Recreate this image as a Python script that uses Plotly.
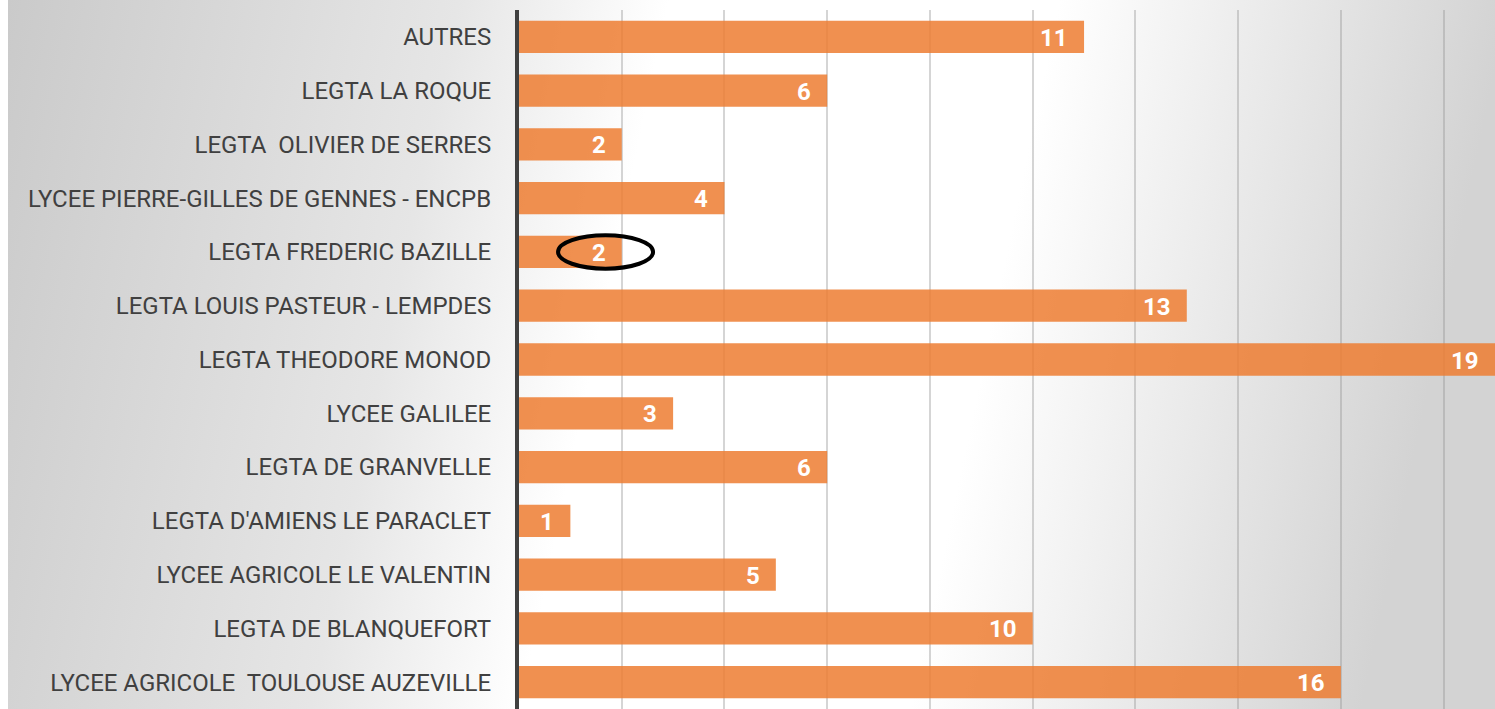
import base64
import plotly.graph_objects as go

categories = [
    "AUTRES",
    "LEGTA LA ROQUE",
    "LEGTA  OLIVIER DE SERRES",
    "LYCEE PIERRE-GILLES DE GENNES - ENCPB",
    "LEGTA FREDERIC BAZILLE",
    "LEGTA LOUIS PASTEUR - LEMPDES",
    "LEGTA THEODORE MONOD",
    "LYCEE GALILEE",
    "LEGTA DE GRANVELLE",
    "LEGTA D'AMIENS LE PARACLET",
    "LYCEE AGRICOLE LE VALENTIN",
    "LEGTA DE BLANQUEFORT",
    "LYCEE AGRICOLE  TOULOUSE AUZEVILLE",
]
values = [11, 6, 2, 4, 2, 13, 19, 3, 6, 1, 5, 10, 16]
highlighted = "LEGTA FREDERIC BAZILLE"

W, H = 1495, 709
ML, MT = 519, 10
XMAX = 19

label_font = "Roboto, Liberation Sans, sans-serif"

fig = go.Figure()
fig.add_trace(go.Bar(
    y=categories,
    x=values,
    orientation="h",
    marker=dict(color="rgba(237,125,49,0.85)", line=dict(width=0)),
    width=0.6,
    hoverinfo="x+y",
))

for c, v in zip(categories, values):
    fig.add_annotation(
        x=v, y=c, text=str(v), showarrow=False,
        xanchor="right", xshift=-14, yshift=-1,
        font=dict(family=label_font, size=24, color="white", weight="bold"),
    )

# ellipse around the highlighted label
hi = categories.index(highlighted)
fig.add_shape(
    type="circle", xref="x", yref="y",
    x0=0.76, x1=2.61, y0=hi - 0.31, y1=hi + 0.31,
    line=dict(color="black", width=4),
)

# background gradient
svg = (
    f'<svg xmlns="http://www.w3.org/2000/svg" width="{W}" height="{H}">'
    '<defs><linearGradient id="g" x1="0" y1="0" x2="1" y2="0.1">'
    '<stop offset="0" stop-color="#cacaca"/>'
    '<stop offset="0.3" stop-color="#e6e6e6"/>'
    '<stop offset="0.44" stop-color="#ffffff"/>'
    '<stop offset="0.70" stop-color="#ffffff"/>'
    '<stop offset="1" stop-color="#d3d3d3"/>'
    '</linearGradient></defs>'
    f'<rect x="0" y="0" width="{W}" height="{H}" fill="url(#g)"/></svg>'
)
src = "data:image/svg+xml;base64," + base64.b64encode(svg.encode()).decode()
pw = W - ML
ph = H - MT
fig.add_layout_image(
    source=src, xref="paper", yref="paper",
    x=(8 - ML) / pw, y=1 + MT / ph,
    sizex=(W - 8) / pw, sizey=H / ph,
    xanchor="left", yanchor="top", sizing="stretch", layer="below",
)

fig.update_layout(
    width=W, height=H,
    margin=dict(l=ML, r=0, t=MT, b=0, pad=0, autoexpand=False),
    paper_bgcolor="white",
    plot_bgcolor="rgba(0,0,0,0)",
    showlegend=False,
    bargap=0.4,
)
fig.update_xaxes(
    range=[0, XMAX], dtick=2, showticklabels=False,
    showgrid=True, gridcolor="rgba(150,150,150,0.4)", gridwidth=2,
    zeroline=False, showline=False, fixedrange=True,
)
fig.update_yaxes(
    categoryorder="array", categoryarray=categories,
    range=[len(categories) - 0.5, -0.5],
    showgrid=False, zeroline=False, automargin=False,
    showline=True, linecolor="#404040", linewidth=4,
    ticks="", ticklabelstandoff=19,
    tickfont=dict(family=label_font, size=24, color="#404040"),
    fixedrange=True,
)

fig.write_html(
    "out.html",
    config={"displayModeBar": False},
    post_script="document.body.style.margin='0';document.body.style.overflow='hidden';",
)
